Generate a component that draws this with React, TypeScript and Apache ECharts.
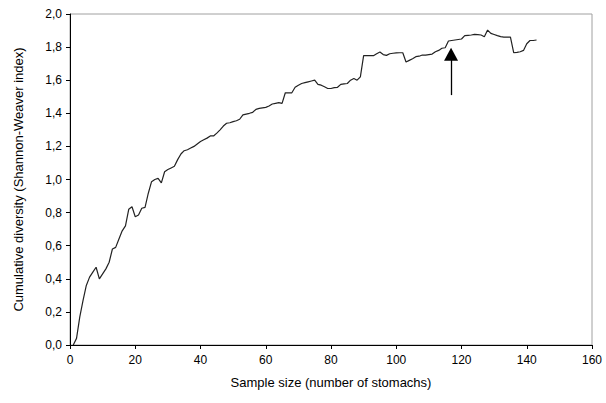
import React, { useEffect, useRef } from "react";
import * as echarts from "echarts";

const sampleSizes: number[] = Array.from({ length: 143 }, (_, i) => i + 1);

const diversity: number[] = [
  0.0, 0.04, 0.17, 0.27, 0.36, 0.41, 0.44, 0.47, 0.40, 0.43,
  0.46, 0.50, 0.58, 0.59, 0.64, 0.69, 0.72, 0.82, 0.835, 0.775,
  0.785, 0.826, 0.832, 0.917, 0.987, 1.0, 1.007, 0.98, 1.047, 1.06,
  1.07, 1.08, 1.12, 1.154, 1.174, 1.18, 1.19, 1.2, 1.215, 1.23,
  1.24, 1.25, 1.263, 1.263, 1.28, 1.3, 1.323, 1.34, 1.343, 1.35,
  1.355, 1.364, 1.39, 1.395, 1.4, 1.406, 1.424, 1.43, 1.433, 1.436,
  1.444, 1.456, 1.46, 1.464, 1.46, 1.524, 1.524, 1.524, 1.557, 1.57,
  1.58, 1.585, 1.59, 1.595, 1.6, 1.575, 1.57, 1.56, 1.55, 1.55,
  1.555, 1.557, 1.575, 1.578, 1.58, 1.6, 1.61, 1.6, 1.62, 1.748,
  1.748, 1.748, 1.748, 1.76, 1.77, 1.755, 1.75, 1.76, 1.763, 1.765,
  1.766, 1.766, 1.71, 1.72, 1.73, 1.742, 1.745, 1.752, 1.752, 1.755,
  1.758, 1.772, 1.78, 1.793, 1.796, 1.837, 1.84, 1.843, 1.846, 1.849,
  1.869, 1.871, 1.873, 1.877, 1.875, 1.873, 1.863, 1.903, 1.883, 1.876,
  1.869, 1.863, 1.86, 1.86, 1.861, 1.766, 1.768, 1.772, 1.78, 1.82,
  1.84, 1.84, 1.843,
];

// Arrow annotation: [x, yStart] -> [x, yEnd]
const arrowX = 116.8;
const arrowFrom = 1.51;
const arrowTo = 1.757;

const xTitle = "Sample size (number of stomachs)";
const yTitle = "Cumulative diversity (Shannon-Weaver index)";

export default function App() {
  const ref = useRef<HTMLDivElement>(null);

  useEffect(() => {
    if (!ref.current) return;
    const chart = echarts.init(ref.current, null, { renderer: "svg" });
    const font = "Liberation Sans, Arial, sans-serif";
    chart.setOption({
      animation: false,
      backgroundColor: "#ffffff",
      grid: {
        left: 70,
        right: 14,
        top: 14,
        bottom: 58,
        show: true,
        borderColor: "#a0a0a0",
        borderWidth: 1,
        backgroundColor: "transparent",
      },
      xAxis: {
        type: "value",
        min: 0,
        max: 160,
        interval: 20,
        name: xTitle,
        nameLocation: "middle",
        nameGap: 31,
        nameTextStyle: { fontFamily: font, fontSize: 13, color: "#000" },
        axisLine: { show: true, lineStyle: { color: "#000", width: 1 } },
        axisTick: { show: true, inside: false, length: 4, lineStyle: { color: "#000" } },
        axisLabel: { fontFamily: font, fontSize: 12, color: "#000", margin: 9 },
        splitLine: { show: false },
      },
      yAxis: {
        type: "value",
        min: 0,
        max: 2,
        interval: 0.2,
        name: yTitle,
        nameLocation: "middle",
        nameGap: 45,
        nameRotate: 90,
        nameTextStyle: { fontFamily: font, fontSize: 13, color: "#000" },
        axisLine: { show: true, lineStyle: { color: "#000", width: 1 } },
        axisTick: { show: true, inside: false, length: 4, lineStyle: { color: "#000" } },
        axisLabel: {
          fontFamily: font,
          fontSize: 12,
          color: "#000",
          margin: 8,
          formatter: (v: number) => v.toFixed(1).replace(".", ","),
        },
        splitLine: { show: false },
      },
      series: [
        {
          type: "line",
          data: sampleSizes.map((n, i) => [n, diversity[i]]),
          showSymbol: false,
          symbol: "none",
          lineStyle: { color: "#222", width: 1.2 },
          markLine: {
            silent: true,
            symbol: ["none", "triangle"],
            symbolSize: [14, 13],
            label: { show: false },
            lineStyle: { color: "#000", width: 1.3, type: "solid" },
            data: [
              [
                { coord: [arrowX, arrowFrom] },
                { coord: [arrowX, arrowTo] },
              ],
            ],
          },
        },
      ],
    });
    return () => chart.dispose();
  }, []);

  return (
    <div
      ref={ref}
      style={{ position: "fixed", left: 0, top: 0, width: 606, height: 403 }}
    />
  );
}
